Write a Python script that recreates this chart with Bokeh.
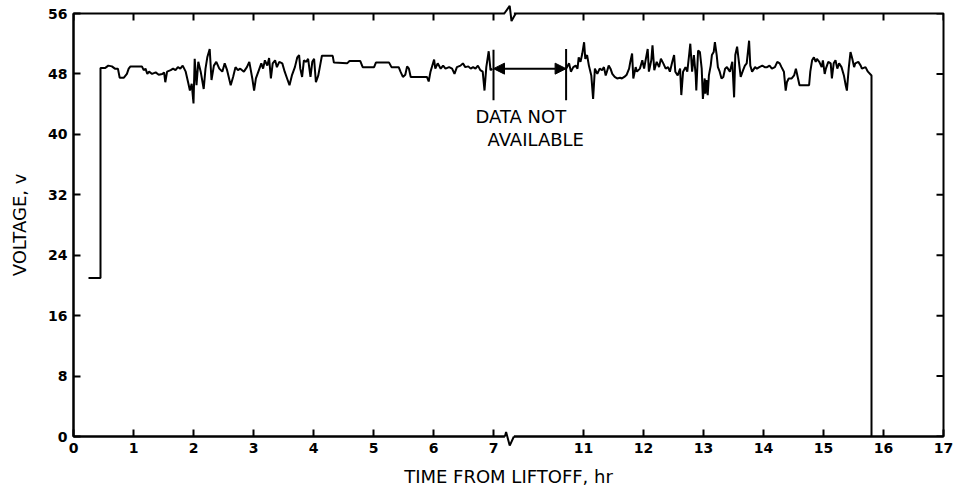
import numpy as np
from bokeh.plotting import figure
from bokeh.models import FixedTicker, Arrow, NormalHead, Range1d
from bokeh.core.properties import value
from bokeh.embed import file_html
from bokeh.resources import INLINE

# ---------------- data (hours from liftoff, volts) ----------------
t1 = [0.25, 0.45, 0.45, 0.53, 0.58, 0.64, 0.69, 0.74, 0.77, 0.84, 0.89, 0.92, 0.95, 1.14, 1.17,
      1.20, 1.23, 1.26, 1.31, 1.37, 1.42, 1.48, 1.51, 1.53, 1.56, 1.62, 1.66, 1.70, 1.74, 1.78,
      1.82, 1.87, 1.91, 1.94, 1.97, 2.00, 2.02, 2.05, 2.08, 2.12, 2.14, 2.17, 2.20, 2.23, 2.27,
      2.30, 2.34, 2.38, 2.43, 2.48, 2.52, 2.56, 2.62, 2.66, 2.70, 2.74, 2.78, 2.84, 2.89, 2.93,
      2.98, 3.01, 3.04, 3.09, 3.13, 3.16, 3.19, 3.23, 3.26, 3.29, 3.32, 3.36, 3.39, 3.43, 3.48,
      3.52, 3.56, 3.60, 3.64, 3.69, 3.73, 3.76, 3.78, 3.81, 3.84, 3.88, 3.91, 3.95, 3.98, 4.01,
      4.04, 4.08, 4.11, 4.14, 4.32, 4.34, 4.56, 4.60, 4.78, 4.82, 5.01, 5.04, 5.26, 5.30, 5.42,
      5.45, 5.49, 5.53, 5.56, 5.59, 5.62, 5.89, 5.92, 5.95, 6.01, 6.03, 6.07, 6.12, 6.16, 6.20,
      6.26, 6.31, 6.35, 6.39, 6.45, 6.49, 6.53, 6.58, 6.62, 6.66, 6.70, 6.74, 6.78, 6.82, 6.85,
      6.88, 6.92, 6.95, 6.98]
v1 = [21.0, 21.0, 48.8, 48.8, 49.1, 49.0, 48.7, 48.7, 47.5, 47.5, 48.0, 48.7, 49.0, 49.0, 48.5,
      48.7, 48.0, 48.3, 48.0, 48.2, 47.9, 48.0, 48.2, 46.9, 48.3, 48.5, 48.7, 48.5, 48.9, 48.7,
      49.1, 48.3, 46.9, 45.8, 46.7, 44.1, 50.0, 46.5, 49.6, 48.3, 47.4, 46.0, 48.7, 50.2, 51.3,
      47.2, 49.1, 49.6, 48.7, 48.3, 49.4, 48.5, 46.5, 47.6, 48.9, 48.5, 48.7, 48.3, 48.9, 49.6,
      47.4, 45.8, 47.4, 48.5, 49.4, 48.7, 49.8, 49.1, 50.1, 47.4, 49.4, 49.8, 48.9, 49.6, 49.4,
      48.3, 47.4, 46.5, 47.8, 48.9, 50.2, 50.5, 48.7, 47.6, 49.8, 49.6, 50.0, 47.6, 49.6, 50.0,
      46.9, 47.8, 49.1, 50.4, 50.4, 49.5, 49.4, 49.7, 49.7, 48.9, 48.9, 49.5, 49.5, 48.9, 48.9,
      48.3, 47.6, 47.9, 49.0, 48.7, 47.6, 47.6, 47.0, 48.3, 49.9, 48.7, 49.4, 48.7, 49.1, 48.7,
      48.9, 48.7, 48.0, 48.9, 49.1, 49.4, 48.9, 49.0, 48.7, 48.9, 48.7, 49.1, 48.5, 48.3, 45.8,
      48.9, 51.0, 48.5, 48.7]

t2 = [10.71, 10.76, 10.79, 10.83, 10.87, 10.90, 10.92, 10.95, 10.98, 11.01, 11.03, 11.06, 11.09,
      11.13, 11.16, 11.19, 11.23, 11.27, 11.31, 11.34, 11.37, 11.39, 11.42, 11.45, 11.48, 11.52,
      11.56, 11.61, 11.64, 11.68, 11.72, 11.76, 11.78, 11.81, 11.83, 11.87, 11.89, 11.94, 11.98,
      12.01, 12.03, 12.07, 12.09, 12.13, 12.15, 12.18, 12.22, 12.26, 12.29, 12.33, 12.37, 12.41,
      12.44, 12.48, 12.51, 12.53, 12.57, 12.61, 12.63, 12.66, 12.70, 12.73, 12.76, 12.78, 12.81,
      12.84, 12.87, 12.88, 12.91, 12.94, 12.97, 12.99, 13.02, 13.03, 13.05, 13.07, 13.09, 13.12,
      13.14, 13.17, 13.19, 13.22, 13.24, 13.27, 13.30, 13.33, 13.36, 13.39, 13.44, 13.48, 13.51,
      13.53, 13.56, 13.59, 13.62, 13.66, 13.69, 13.72, 13.74, 13.76, 13.78, 13.81, 13.86, 13.89,
      13.93, 13.98, 14.02, 14.06, 14.10, 14.14, 14.19, 14.23, 14.27, 14.30, 14.34, 14.37, 14.39,
      14.42, 14.47, 14.51, 14.54, 14.57, 14.60, 14.76, 14.78, 14.81, 14.84, 14.87, 14.89, 14.93,
      14.97, 14.99, 15.02, 15.04, 15.08, 15.12, 15.14, 15.17, 15.20, 15.23, 15.26, 15.30, 15.34,
      15.37, 15.39, 15.42, 15.45, 15.48, 15.51, 15.53, 15.58, 15.62, 15.64, 15.70, 15.74, 15.80,
      15.80]
v2 = [48.7, 49.4, 48.3, 48.9, 49.1, 48.7, 50.2, 49.6, 50.7, 52.2, 50.0, 50.5, 49.1,
      47.8, 44.7, 48.7, 48.0, 48.7, 48.5, 48.9, 47.8, 48.3, 49.1, 48.7, 48.0, 47.6,
      47.4, 47.5, 47.4, 47.6, 47.9, 48.7, 49.6, 50.7, 47.4, 48.9, 48.3, 48.7, 49.8,
      48.7, 49.6, 51.3, 48.3, 49.8, 51.8, 48.5, 49.6, 48.9, 50.0, 49.4, 48.7, 48.9,
      48.3, 49.6, 50.5, 48.3, 47.8, 48.7, 45.2, 48.3, 48.9, 48.3, 50.5, 52.0, 48.3,
      50.5, 47.8, 45.8, 51.1, 50.9, 48.7, 44.7, 47.4, 45.4, 47.2, 45.2, 47.8, 49.1,
      50.5, 50.9, 52.2, 50.5, 48.9, 48.3, 47.4, 47.6, 48.7, 48.9, 48.3, 49.6, 44.9,
      50.5, 51.6, 49.6, 47.6, 48.5, 49.1, 49.4, 50.9, 52.4, 49.1, 48.3, 48.9, 48.7,
      48.9, 49.1, 48.9, 48.9, 49.1, 48.7, 48.9, 49.6, 49.4, 48.9, 48.3, 45.8, 46.9,
      47.4, 47.4, 47.8, 48.7, 47.6, 46.5, 46.5, 48.3, 49.8, 50.2, 49.6, 50.0, 49.6,
      48.9, 49.8, 48.0, 48.7, 49.6, 49.4, 47.4, 49.4, 49.8, 48.7, 49.4, 48.9, 47.8,
      46.5, 45.8, 48.7, 50.9, 50.0, 48.9, 49.4, 49.6, 49.1, 48.7, 48.9, 48.3, 47.8,
      0.0]

# data gap ("DATA NOT AVAILABLE")
gap_start = 7.0
gap_end = 10.71
gap_marker_low = [44.5, 44.5]
gap_marker_high = [51.2, 51.3]
gap_arrow_v = 48.7
gap_text = ["DATA NOT", "AVAILABLE"]

x_tick_hours = [0, 1, 2, 3, 4, 5, 6, 7, 11, 12, 13, 14, 15, 16, 17]
y_ticks = [0, 8, 16, 24, 32, 40, 48, 56]

# ---------------- broken time axis ----------------
AXIS_CUT = 7.0       # hours shown before the break
GAP_SHIFT = 2.5      # hours removed by the break


def to_axis(hours):
    return [h if h <= AXIS_CUT else h - GAP_SHIFT for h in hours]


FONT = "DejaVu Sans"
X_MAX = to_axis([17])[0]
Y_MAX = 56

p = figure(width=953, height=492, output_backend="svg", toolbar_location=None,
           x_range=Range1d(0, X_MAX), y_range=Range1d(0, Y_MAX),
           min_border_left=73, min_border_right=10, min_border_top=13, min_border_bottom=56,
           background_fill_color="white", border_fill_color="white")
p.outline_line_color = "black"
p.outline_line_width = 2
p.xgrid.visible = False
p.ygrid.visible = False

xt = to_axis(x_tick_hours)
overrides = {float(pos): str(h) for pos, h in zip(xt, x_tick_hours)}

for ax in p.xaxis + p.yaxis:
    ax.axis_line_color = "black"
    ax.axis_line_width = 2
    ax.major_tick_line_color = "black"
    ax.major_tick_line_width = 2
    ax.major_tick_in = 7
    ax.major_tick_out = 0
    ax.minor_tick_line_color = None
    ax.major_label_text_font = FONT
    ax.major_label_text_font_size = "14px"
    ax.major_label_text_font_style = "bold"
    ax.major_label_text_color = "black"
    ax.major_label_standoff = 6
    ax.axis_label_text_font = FONT
    ax.axis_label_text_font_size = "18px"
    ax.axis_label_text_font_style = "normal"
    ax.axis_label_text_color = "black"

p.xaxis.ticker = FixedTicker(ticks=xt)
p.xaxis.major_label_overrides = overrides
p.xaxis.axis_label = "TIME FROM LIFTOFF, hr"
p.xaxis.axis_label_standoff = 10
p.yaxis.ticker = FixedTicker(ticks=y_ticks)
p.yaxis.axis_label = "VOLTAGE, v"
p.yaxis.axis_label_standoff = 15

# inward ticks on the top and right edges of the frame
TICK_V = 7 / 7.55     # 7 px in volts
TICK_H = 7 / 60.0     # 7 px in hours
p.segment(x0=xt, y0=[Y_MAX] * len(xt), x1=xt, y1=[Y_MAX - TICK_V] * len(xt),
          line_color="black", line_width=2)
p.segment(x0=[X_MAX] * len(y_ticks), y0=y_ticks, x1=[X_MAX - TICK_H] * len(y_ticks), y1=y_ticks,
          line_color="black", line_width=2)

# ---------------- axis-break symbols (top and bottom) ----------------
bx = AXIS_CUT + 0.27
p.segment(x0=[bx - 0.08, bx - 0.08], y0=[0, Y_MAX], x1=[bx + 0.07, bx + 0.07], y1=[0, Y_MAX],
          line_color="white", line_width=4, level="overlay")
p.line([bx - 0.08, bx - 0.06, bx, bx + 0.07], [0, 0.6, -1.2, 0],
       line_color="black", line_width=2, level="overlay")
p.line([bx - 0.09, bx, bx + 0.03, bx + 0.10], [Y_MAX, Y_MAX + 1, Y_MAX - 1, Y_MAX],
       line_color="black", line_width=2, level="overlay")

# ---------------- data ----------------
p.line(to_axis(t1), v1, line_color="black", line_width=2)
p.line(to_axis(t2), v2, line_color="black", line_width=2)

# ---------------- data gap annotation ----------------
gx = to_axis([gap_start, gap_end])
p.segment(x0=gx, y0=gap_marker_low, x1=gx, y1=gap_marker_high,
          line_color="black", line_width=2)
p.add_layout(Arrow(start=NormalHead(size=11, fill_color="black", line_color="black"),
                   end=NormalHead(size=11, fill_color="black", line_color="black"),
                   x_start=gx[0], y_start=gap_arrow_v, x_end=gx[1], y_end=gap_arrow_v,
                   line_color="black", line_width=2))
p.text(x=[gx[0] - 0.30, gx[0] - 0.10], y=[42.4, 39.3], text=gap_text,
       text_font=value(FONT), text_font_size="18px", text_color="black",
       text_align="left", text_baseline="middle")

open("out.html", "w").write(file_html(p, INLINE))
